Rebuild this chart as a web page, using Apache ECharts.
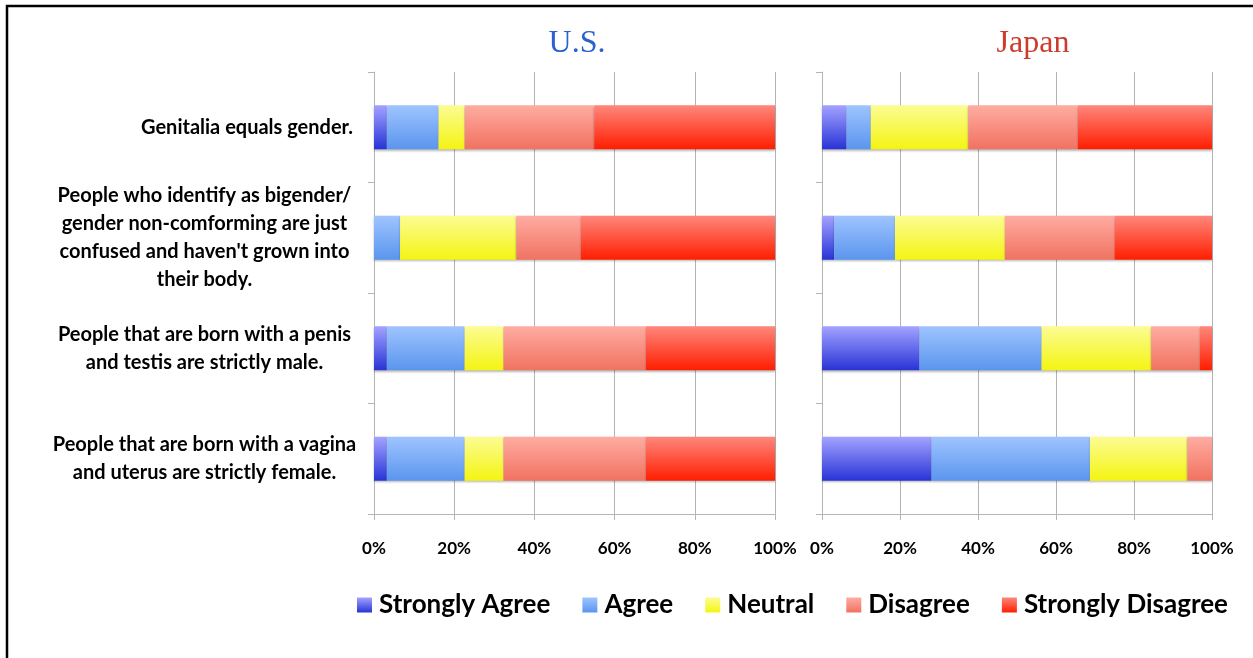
<!DOCTYPE html>
<html>
<head>
<meta charset="utf-8">
<title>Gender attitudes: U.S. and Japan</title>
<script src="https://cdn.jsdelivr.net/npm/echarts@6/dist/echarts.min.js"></script>
<style>
  html, body { margin: 0; padding: 0; background: #ffffff; }
  #chart { width: 1253px; height: 658px; }
</style>
</head>
<body>
<div id="chart"></div>
<script>
// Survey statements, top to bottom
const statements = [
  "Genitalia equals gender.",
  "People who identify as bigender/\ngender non-comforming are just\nconfused and haven't grown into\ntheir body.",
  "People that are born with a penis\nand testis are strictly male.",
  "People that are born with a vagina\nand uterus are strictly female."
];

const responses = ["Strongly Agree", "Agree", "Neutral", "Disagree", "Strongly Disagree"];

const panelTitles = ["U.S.", "Japan"];

const percentTicks = [0, 20, 40, 60, 80, 100];

// Share of respondents (%) per statement, U.S.
const usStronglyAgree    = [3.2, 0.0, 3.2, 3.2];
const usAgree            = [12.9, 6.5, 19.4, 19.4];
const usNeutral          = [6.5, 29.0, 9.7, 9.7];
const usDisagree         = [32.3, 16.1, 35.5, 35.5];
const usStronglyDisagree = [45.1, 48.4, 32.2, 32.2];

// Share of respondents (%) per statement, Japan
const jpStronglyAgree    = [6.3, 3.1, 25.0, 28.1];
const jpAgree            = [6.2, 15.6, 31.3, 40.6];
const jpNeutral          = [25.0, 28.2, 28.1, 25.0];
const jpDisagree         = [28.1, 28.1, 12.5, 6.3];
const jpStronglyDisagree = [34.4, 25.0, 3.1, 0.0];

const usValues = [usStronglyAgree, usAgree, usNeutral, usDisagree, usStronglyDisagree];
const jpValues = [jpStronglyAgree, jpAgree, jpNeutral, jpDisagree, jpStronglyDisagree];

// Vertical gradient per response (top colour, bottom colour)
const gradientStops = [
  ["#a3a3ff", "#2833d6"],
  ["#9fc4ff", "#5a95ee"],
  ["#fcfc94", "#f4f412"],
  ["#ffaca2", "#f17260"],
  ["#ff877c", "#ff1e00"]
];

function fill(i) {
  return new echarts.graphic.LinearGradient(0, 0, 0, 1, [
    { offset: 0, color: gradientStops[i][0] },
    { offset: 1, color: gradientStops[i][1] }
  ]);
}

const axisGray = "#b4b4b4";
const labelFont = "Lato, 'Liberation Sans', sans-serif";

const grids = [
  { left: 374, width: 401, top: 72, height: 442 },
  { left: 822, width: 390, top: 72, height: 442 }
];

function xAxisFor(gi) {
  return {
    type: "value",
    gridIndex: gi,
    min: 0,
    max: 100,
    interval: 20,
    axisLine: { show: true, lineStyle: { color: axisGray, width: 1 } },
    axisTick: { show: true, length: 6, lineStyle: { color: axisGray } },
    splitLine: { show: true, lineStyle: { color: axisGray, width: 1 } },
    axisLabel: {
      margin: 26,
      fontFamily: labelFont,
      fontWeight: "bold",
      fontSize: 17,
      color: "#000",
      formatter: v => percentTicks.includes(v) ? v + "%" : ""
    }
  };
}

function yAxisFor(gi, showLabels) {
  return {
    type: "category",
    gridIndex: gi,
    inverse: true,
    data: statements,
    axisLine: { show: true, lineStyle: { color: axisGray, width: 1 } },
    axisTick: { show: true, length: 6, lineStyle: { color: axisGray } },
    splitLine: { show: false },
    axisLabel: {
      show: showLabels,
      margin: 21,
      color: "#000",
      fontFamily: labelFont,
      fontWeight: "bold",
      fontSize: 20,
      lineHeight: 28,
      formatter: function (value) {
        const lines = value.split("\n");
        if (lines.length === 1) return value;
        return lines.map(l => "{c|" + l + "}").join("\n");
      },
      rich: {
        c: {
          width: 297,
          align: "center",
          fontFamily: labelFont,
          fontWeight: "bold",
          fontSize: 20,
          lineHeight: 28,
          color: "#000"
        }
      }
    }
  };
}

const series = [];
[usValues, jpValues].forEach((vals, gi) => {
  vals.forEach((arr, i) => {
    series.push({
      name: responses[i],
      type: "bar",
      stack: "panel" + gi,
      xAxisIndex: gi,
      yAxisIndex: gi,
      barWidth: 44,
      data: arr,
      itemStyle: {
        color: fill(i),
        shadowColor: "rgba(0,0,0,0.28)",
        shadowBlur: 2,
        shadowOffsetY: 1.5
      },
      emphasis: { disabled: true }
    });
  });
});

const chart = echarts.init(document.getElementById("chart"), null, { renderer: "canvas" });

chart.setOption({
  animation: false,
  backgroundColor: "#ffffff",
  title: [
    {
      text: panelTitles[0],
      left: 572,
      top: 23,
      textAlign: "center",
      textStyle: { fontFamily: "'Liberation Serif', 'DejaVu Serif', serif", fontWeight: "normal", fontSize: 32, color: "#2a62cf" }
    },
    {
      text: panelTitles[1],
      left: 1028,
      top: 23,
      textAlign: "center",
      textStyle: { fontFamily: "'Liberation Serif', 'DejaVu Serif', serif", fontWeight: "normal", fontSize: 32, color: "#cc3b2b" }
    }
  ],
  legend: {
    data: responses,
    left: 357,
    top: 592,
    padding: 0,
    itemWidth: 15,
    itemHeight: 15,
    itemGap: 32,
    icon: "rect",
    textStyle: {
      fontFamily: labelFont,
      fontWeight: "bold",
      fontSize: 26,
      color: "#000",
      padding: [0, 0, 0, 2]
    },
    selectedMode: false
  },
  grid: grids,
  xAxis: [xAxisFor(0), xAxisFor(1)],
  yAxis: [yAxisFor(0, true), yAxisFor(1, false)],
  series: series,
  graphic: [
    {
      type: "rect",
      silent: true,
      shape: { x: 7, y: 6, width: 1400, height: 800 },
      style: { fill: "none", stroke: "#000", lineWidth: 2.5 },
      z: 100
    }
  ]
});
</script>
</body>
</html>
